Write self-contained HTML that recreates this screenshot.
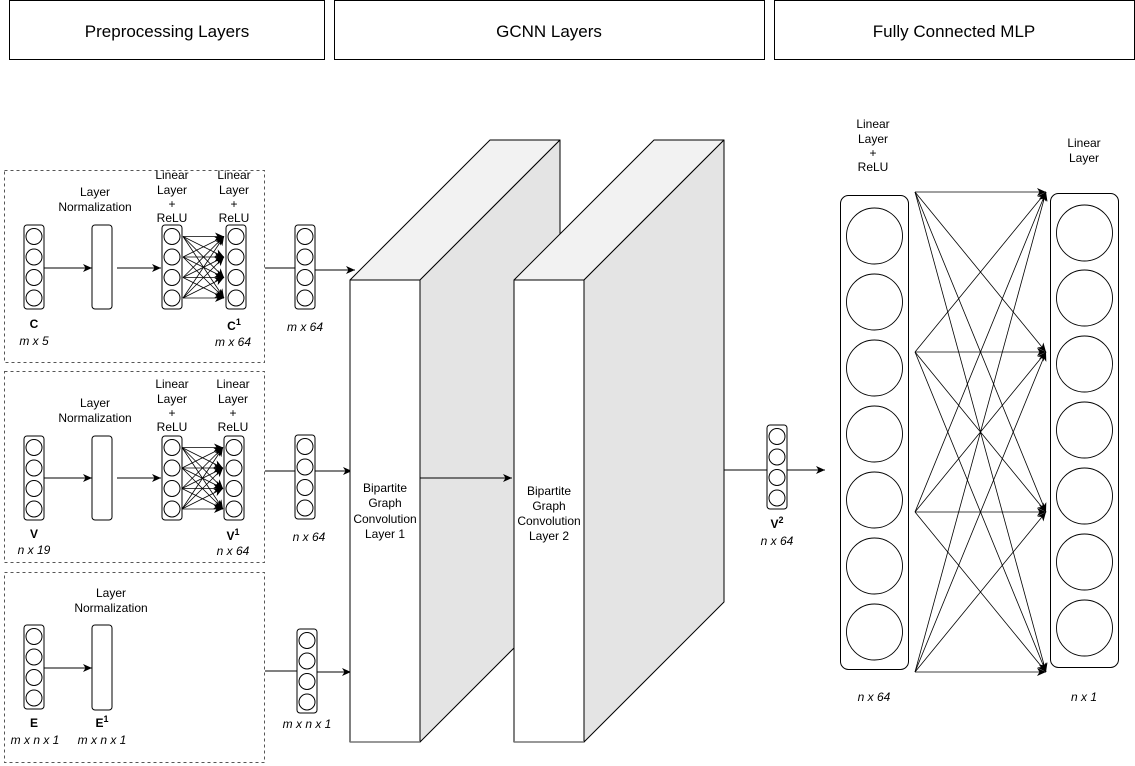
<!DOCTYPE html>
<html><head><meta charset="utf-8"><style>
html,body{margin:0;padding:0;background:#fff;}
svg{display:block;font-family:"Liberation Sans",Arial,sans-serif;}
</style></head><body>
<svg width="1135" height="766" viewBox="0 0 1135 766" xmlns="http://www.w3.org/2000/svg">
<defs>
<marker id="a" markerWidth="10" markerHeight="8" refX="9" refY="4" orient="auto" markerUnits="userSpaceOnUse"><path d="M0,0 L9,4 L0,8 L2.5,4 z" fill="#000"/></marker>
<g id="col"><rect x="0" y="0" width="20" height="84" rx="3" fill="#fff" stroke="#000" stroke-width="1"/><circle cx="10" cy="11.5" r="8" fill="#fff" stroke="#000"/><circle cx="10" cy="32" r="8" fill="#fff" stroke="#000"/><circle cx="10" cy="52.5" r="8" fill="#fff" stroke="#000"/><circle cx="10" cy="73" r="8" fill="#fff" stroke="#000"/></g>
<g id="dense" stroke="#000" stroke-width="0.8" marker-end="url(#a)">
<line x1="0" y1="11.5" x2="41" y2="11.5"/><line x1="0" y1="11.5" x2="41" y2="32"/><line x1="0" y1="11.5" x2="41" y2="52.5"/><line x1="0" y1="11.5" x2="41" y2="73"/>
<line x1="0" y1="32" x2="41" y2="11.5"/><line x1="0" y1="32" x2="41" y2="32"/><line x1="0" y1="32" x2="41" y2="52.5"/><line x1="0" y1="32" x2="41" y2="73"/>
<line x1="0" y1="52.5" x2="41" y2="11.5"/><line x1="0" y1="52.5" x2="41" y2="32"/><line x1="0" y1="52.5" x2="41" y2="52.5"/><line x1="0" y1="52.5" x2="41" y2="73"/>
<line x1="0" y1="73" x2="41" y2="11.5"/><line x1="0" y1="73" x2="41" y2="32"/><line x1="0" y1="73" x2="41" y2="52.5"/><line x1="0" y1="73" x2="41" y2="73"/>
</g>
</defs>

<!-- headers -->
<g fill="#fff" stroke="#000" stroke-width="1">
<rect x="9.5" y="0.5" width="315" height="59"/>
<rect x="334.5" y="0.5" width="430" height="59"/>
<rect x="774.5" y="0.5" width="360" height="59"/>
</g>
<g font-size="17" text-anchor="middle" fill="#000">
<text x="167" y="37">Preprocessing Layers</text>
<text x="549" y="37">GCNN Layers</text>
<text x="954" y="37">Fully Connected MLP</text>
</g>

<!-- dashed boxes -->
<g fill="none" stroke="#555" stroke-dasharray="3,3" stroke-width="1">
<rect x="4.5" y="170.5" width="260" height="192"/>
<rect x="4.5" y="371.5" width="260" height="191"/>
<rect x="4.5" y="572.5" width="260" height="190"/>
</g>

<!-- row1 -->
<use href="#col" x="24" y="225"/>
<rect x="92" y="225" width="20" height="84" rx="3" fill="#fff" stroke="#000"/>
<use href="#col" x="162" y="225"/>
<use href="#col" x="226" y="225"/>
<use href="#dense" x="183" y="225"/>
<use href="#col" x="295" y="225"/>
<g stroke="#000" stroke-width="1" fill="none">
<line x1="44" y1="268" x2="92" y2="268" marker-end="url(#a)"/>
<line x1="117" y1="268" x2="161" y2="268" marker-end="url(#a)"/>
<line x1="265" y1="268" x2="295" y2="268"/>
<line x1="315" y1="270" x2="355" y2="270" marker-end="url(#a)"/>
</g>

<!-- row2 -->
<use href="#col" x="24" y="436"/>
<rect x="92" y="436" width="20" height="84" rx="3" fill="#fff" stroke="#000"/>
<use href="#col" x="162" y="436"/>
<use href="#col" x="224" y="436"/>
<use href="#dense" x="182" y="436"/>
<use href="#col" x="295" y="435"/>
<g stroke="#000" stroke-width="1" fill="none">
<line x1="44" y1="478" x2="92" y2="478" marker-end="url(#a)"/>
<line x1="117" y1="478" x2="161" y2="478" marker-end="url(#a)"/>
<line x1="265" y1="471" x2="295" y2="471"/>
<line x1="315" y1="471" x2="352" y2="471" marker-end="url(#a)"/>
</g>

<!-- row3 -->
<use href="#col" x="24" y="625"/>
<rect x="92" y="625" width="20" height="85" rx="3" fill="#fff" stroke="#000"/>
<use href="#col" x="297" y="629"/>
<g stroke="#000" stroke-width="1" fill="none">
<line x1="44" y1="668" x2="92" y2="668" marker-end="url(#a)"/>
<line x1="265" y1="671" x2="297" y2="671"/>
<line x1="317" y1="672" x2="351" y2="672" marker-end="url(#a)"/>
</g>

<!-- row labels -->
<g font-size="12" text-anchor="middle" fill="#000">
<text x="95" y="196">Layer</text><text x="95" y="211">Normalization</text>
<text x="172" y="179">Linear</text><text x="172" y="194">Layer</text><text x="172" y="208">+</text><text x="172" y="222">ReLU</text>
<text x="234" y="179">Linear</text><text x="234" y="194">Layer</text><text x="234" y="208">+</text><text x="234" y="222">ReLU</text>
<text x="34" y="328" font-weight="bold">C</text>
<text x="34" y="345" font-style="italic">m x 5</text>
<text x="234" y="330" font-weight="bold">C<tspan font-size="9" dy="-5">1</tspan></text>
<text x="233" y="346" font-style="italic">m x 64</text>
<text x="305" y="331" font-style="italic">m x 64</text>

<text x="95" y="407">Layer</text><text x="95" y="422">Normalization</text>
<text x="172" y="388">Linear</text><text x="172" y="403">Layer</text><text x="172" y="417">+</text><text x="172" y="431">ReLU</text>
<text x="233" y="388">Linear</text><text x="233" y="403">Layer</text><text x="233" y="417">+</text><text x="233" y="431">ReLU</text>
<text x="34" y="538" font-weight="bold">V</text>
<text x="34" y="554" font-style="italic">n x 19</text>
<text x="233" y="540" font-weight="bold">V<tspan font-size="9" dy="-5">1</tspan></text>
<text x="233" y="555" font-style="italic">n x 64</text>
<text x="309" y="541" font-style="italic">n x 64</text>

<text x="111" y="597">Layer</text><text x="111" y="612">Normalization</text>
<text x="34" y="727" font-weight="bold">E</text>
<text x="35" y="744" font-style="italic">m x n x 1</text>
<text x="102" y="727" font-weight="bold">E<tspan font-size="9" dy="-5">1</tspan></text>
<text x="102" y="744" font-style="italic">m x n x 1</text>
<text x="307" y="728" font-style="italic">m x n x 1</text>
</g>

<!-- 3D boxes -->
<g stroke="#000" stroke-width="1" stroke-linejoin="round">
<polygon points="350,280 490,140 560,140 420,280" fill="#f2f2f2"/>
<polygon points="420,280 560,140 560,602 420,742" fill="#e4e4e4"/>
<rect x="350" y="280" width="70" height="462" fill="#fff"/>
<line x1="350" y1="742" x2="420" y2="742" stroke="#777" stroke-width="1.5"/>
<polygon points="514,280 654,140 724,140 584,280" fill="#f2f2f2"/>
<polygon points="584,280 724,140 724,602 584,742" fill="#e4e4e4"/>
<rect x="514" y="280" width="70" height="462" fill="#fff"/>
<line x1="514" y1="742" x2="584" y2="742" stroke="#777" stroke-width="1.5"/>
</g>
<line x1="420" y1="478" x2="512" y2="478" stroke="#000" marker-end="url(#a)"/>
<g font-size="12" text-anchor="middle" fill="#000">
<text x="385" y="492">Bipartite</text><text x="385" y="507">Graph</text><text x="385" y="523">Convolution</text><text x="385" y="538">Layer 1</text>
<text x="549" y="495">Bipartite</text><text x="549" y="510">Graph</text><text x="549" y="525">Convolution</text><text x="549" y="540">Layer 2</text>
</g>

<!-- V2 -->
<use href="#col" x="767" y="425"/>
<line x1="724" y1="470" x2="767" y2="470" stroke="#000"/>
<line x1="787" y1="470" x2="825" y2="470" stroke="#000" marker-end="url(#a)"/>
<g font-size="12" text-anchor="middle" fill="#000">
<text x="777" y="528" font-weight="bold">V<tspan font-size="9" dy="-5">2</tspan></text>
<text x="777" y="545" font-style="italic">n x 64</text>
</g>

<!-- MLP -->
<rect x="840.5" y="195.5" width="68" height="474" rx="8" fill="#fff" stroke="#000"/>
<rect x="1050.5" y="193.5" width="68" height="474" rx="8" fill="#fff" stroke="#000"/>
<g fill="#fff" stroke="#000" stroke-width="0.9">
<circle cx="874.5" cy="236" r="28"/><circle cx="874.5" cy="302" r="28"/><circle cx="874.5" cy="368" r="28"/><circle cx="874.5" cy="434" r="28"/><circle cx="874.5" cy="500" r="28"/><circle cx="874.5" cy="566" r="28"/><circle cx="874.5" cy="632" r="28"/>
<circle cx="1084.5" cy="233" r="28"/><circle cx="1084.5" cy="298" r="28"/><circle cx="1084.5" cy="364" r="28"/><circle cx="1084.5" cy="430" r="28"/><circle cx="1084.5" cy="496" r="28"/><circle cx="1084.5" cy="562" r="28"/><circle cx="1084.5" cy="628" r="28"/>
</g>
<g stroke="#000" stroke-width="0.8" marker-end="url(#a)">
<line x1="915" y1="192" x2="1046" y2="192"/><line x1="915" y1="192" x2="1046" y2="352"/><line x1="915" y1="192" x2="1046" y2="512"/><line x1="915" y1="192" x2="1046" y2="672"/>
<line x1="915" y1="352" x2="1046" y2="192"/><line x1="915" y1="352" x2="1046" y2="352"/><line x1="915" y1="352" x2="1046" y2="512"/><line x1="915" y1="352" x2="1046" y2="672"/>
<line x1="915" y1="512" x2="1046" y2="192"/><line x1="915" y1="512" x2="1046" y2="352"/><line x1="915" y1="512" x2="1046" y2="512"/><line x1="915" y1="512" x2="1046" y2="672"/>
<line x1="915" y1="672" x2="1046" y2="192"/><line x1="915" y1="672" x2="1046" y2="352"/><line x1="915" y1="672" x2="1046" y2="512"/><line x1="915" y1="672" x2="1046" y2="672"/>
</g>
<g font-size="12" text-anchor="middle" fill="#000">
<text x="873" y="128">Linear</text><text x="873" y="143">Layer</text><text x="873" y="157">+</text><text x="873" y="171">ReLU</text>
<text x="1084" y="147">Linear</text><text x="1084" y="162">Layer</text>
<text x="874" y="701" font-style="italic">n x 64</text>
<text x="1084" y="701" font-style="italic">n x 1</text>
</g>
</svg>
</body></html>
